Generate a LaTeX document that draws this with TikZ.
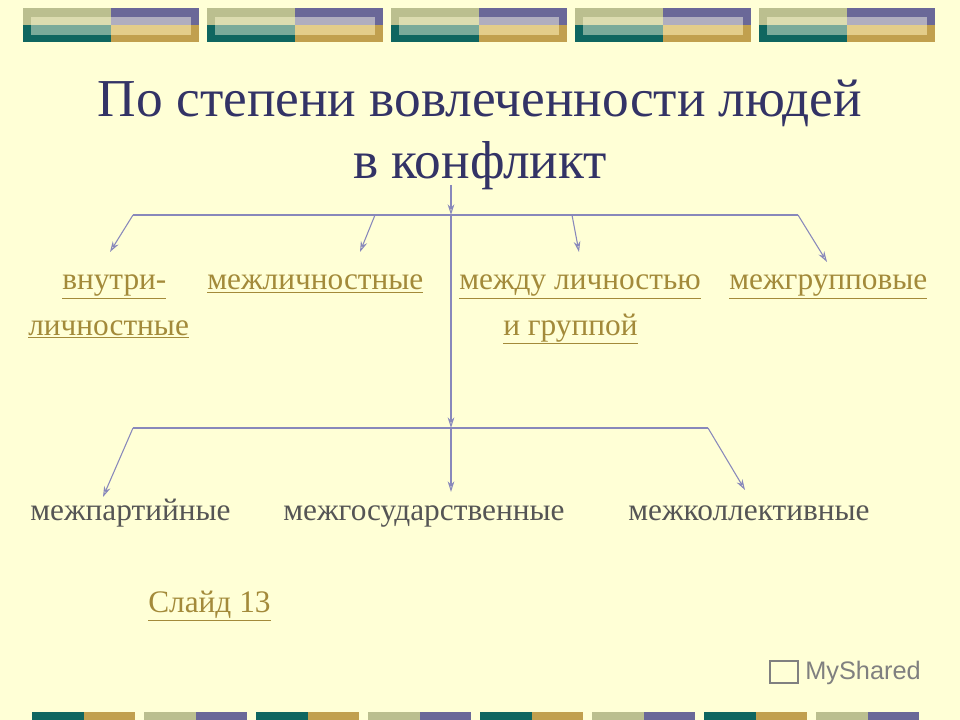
\documentclass[tikz,border=0pt]{standalone}
\usepackage{fontspec}
\setmainfont{Liberation Serif}
\newfontfamily\logofont{Liberation Sans}
\usetikzlibrary{arrows.meta}
\definecolor{bg}{HTML}{FFFFD6}
\definecolor{khaki}{HTML}{BBBF8F}
\definecolor{purp}{HTML}{6A6898}
\definecolor{teal}{HTML}{0F6660}
\definecolor{gold}{HTML}{C1A04E}
\definecolor{lkh}{HTML}{DCDCB0}
\definecolor{lpu}{HTML}{B0AEBF}
\definecolor{lte}{HTML}{7AAA9A}
\definecolor{lgo}{HTML}{E3CD8A}
\definecolor{titlec}{HTML}{333366}
\definecolor{linkc}{HTML}{A38A3A}
\definecolor{txtc}{HTML}{555555}
\definecolor{arrc}{HTML}{8888BB}
\begin{document}
\begin{tikzpicture}[x=0.75pt,y=-0.75pt,
  conn/.style={draw=arrc,line width=0.8pt},
  arr/.style={conn,-{Stealth[length=8pt,width=5pt,open]}},
  lnk/.style={text=linkc,font=\fontsize{23.5}{28}\selectfont,anchor=base west,inner sep=0pt},
  plain/.style={text=txtc,font=\fontsize{23.5}{28}\selectfont,anchor=base west,inner sep=0pt}]
\fill[bg] (0,0) rectangle (960,720);
\useasboundingbox (0,0) rectangle (960,720);
\foreach \x in {23,207,391,575,759}{
  \fill[khaki] (\x,8) rectangle ++(88,17);
  \fill[purp] (\x+88,8) rectangle ++(88,17);
  \fill[teal] (\x,25) rectangle ++(88,17);
  \fill[gold] (\x+88,25) rectangle ++(88,17);
  \fill[lkh] (\x+8,17) rectangle ++(80,8);
  \fill[lpu] (\x+88,17) rectangle ++(80,8);
  \fill[lte] (\x+8,25) rectangle ++(80,10);
  \fill[lgo] (\x+88,25) rectangle ++(80,10);
}
\foreach \x/\a/\b in {32/teal/gold,144/khaki/purp,256/teal/gold,368/khaki/purp,480/teal/gold,592/khaki/purp,704/teal/gold,816/khaki/purp}{
  \fill[\a] (\x,712) rectangle ++(52,8);
  \fill[\b] (\x+52,712) rectangle ++(51,8);
}
\node[text=titlec,font=\fontsize{40}{46}\selectfont,align=center] (title) at (480,135) {По степени вовлеченности людей\\в конфликт};
\coordinate (top) at (451,185);
\coordinate (j1) at (451,215);
\coordinate (hl) at (133,215);
\coordinate (hr) at (798,215);
\coordinate (h2) at (375,215);
\coordinate (h3) at (572,215);
\coordinate (j2) at (451,428);
\coordinate (gl) at (133,428);
\coordinate (gr) at (708,428);
\coordinate (e1) at (110,252);
\coordinate (e2) at (360,252);
\coordinate (e3) at (579,252);
\coordinate (e4) at (827,262);
\coordinate (f1) at (103,497);
\coordinate (f2) at (451,492);
\coordinate (f3) at (745,490);
\node[lnk] (a1) at (62,290) {\underline{внутри-}};
\node[lnk] (a1b) at (28,335) {\underline{личностные}};
\node[lnk] (a2) at (207,290) {\underline{межличностные}};
\node[lnk] (a3) at (459,290) {\underline{между личностью}};
\node[lnk] (a3b) at (503,335) {\underline{и группой}};
\node[lnk] (a4) at (729,290) {\underline{межгрупповые}};
\node[plain] (b1) at (30,520) {межпартийные};
\node[plain] (b2) at (283,520) {межгосударственные};
\node[plain] (b3) at (628,520) {межколлективные};
\node[lnk] (sl) at (148,612) {\underline{Слайд 13}};
\node[text=gray,font=\logofont\fontsize{19}{22}\selectfont,anchor=west,inner sep=0pt] (logo) at (805,673) {MyShared};
\draw[gray,line width=1pt] (770,661) rectangle (798,683);
\draw[arr] (top) -- (j1);
\draw[conn] (hl) -- (hr);
\draw[arr] (j1) -- (j2);
\draw[conn] (gl) -- (gr);
\draw[arr] (hl) -- (e1);
\draw[arr] (h2) -- (e2);
\draw[arr] (h3) -- (e3);
\draw[arr] (hr) -- (e4);
\draw[arr] (gl) -- (f1);
\draw[arr] (j2) -- (f2);
\draw[arr] (gr) -- (f3);
\end{tikzpicture}
\end{document}
